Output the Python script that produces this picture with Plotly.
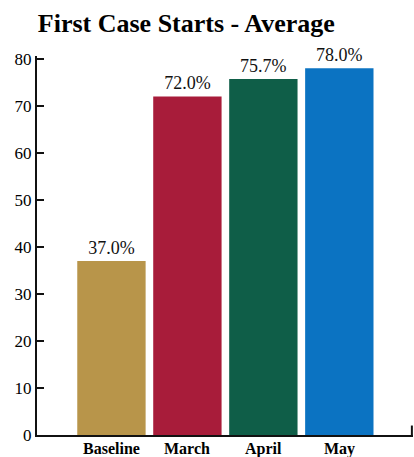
import plotly.graph_objects as go

categories = ["Baseline", "March", "April", "May"]
values = [37.0, 72.0, 75.7, 78.0]
labels = ["37.0%", "72.0%", "75.7%", "78.0%"]
colors = ["#B8954A", "#A81C3A", "#0F5E48", "#0B73C2"]
y_ticks = [0, 10, 20, 30, 40, 50, 60, 70, 80]

fig = go.Figure()
fig.add_trace(go.Bar(
    x=categories, y=values, text=labels, textposition="outside",
    textfont=dict(family="Liberation Serif", size=18, color="#111"),
    marker=dict(color=colors, line=dict(width=0)),
    width=0.9, cliponaxis=False,
))

for cat in categories:
    fig.add_annotation(x=cat, y=0, xref="x", yref="y", text=f"<b>{cat}</b>",
                       showarrow=False, yanchor="top", yshift=-3,
                       font=dict(family="Liberation Serif", size=16, color="#000"))

fig.update_layout(
    width=414, height=457,
    margin=dict(l=37, r=1, t=56, b=22),
    paper_bgcolor="white", plot_bgcolor="white",
    showlegend=False,
    title=dict(text="<b>First Case Starts - Average</b>", x=0.45, xanchor="center",
               y=0.95, yanchor="middle",
               font=dict(family="Liberation Serif", size=26, color="#000")),
    xaxis=dict(range=[-0.98, 3.97], showgrid=False, showline=True, linecolor="#111",
               linewidth=2, ticks="", automargin=False, showticklabels=False),
    yaxis=dict(range=[0, 80.6], tickvals=y_ticks, showgrid=False, showline=True,
               linecolor="#111", linewidth=2, ticks="inside", ticklen=7, tickwidth=2,
               tickcolor="#111", zeroline=False, automargin=False,
               tickfont=dict(family="Liberation Serif", size=17, color="#000")),
    bargap=0.1,
)
fig.add_shape(type="line", xref="paper", yref="paper", x0=0.997, x1=0.997, y0=0, y1=0.025,
              line=dict(color="#111", width=2))

fig.write_html("out.html", config={"displayModeBar": False},
               post_script="document.body.style.margin='0';document.body.style.overflow='hidden';")
